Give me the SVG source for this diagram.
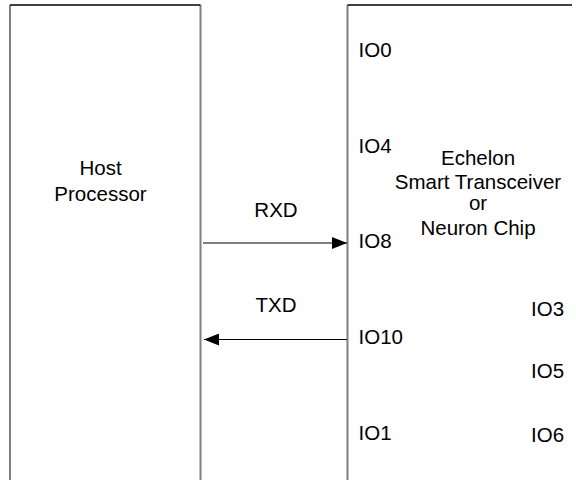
<svg xmlns="http://www.w3.org/2000/svg" width="576" height="480" viewBox="0 0 576 480">
<style>
.side{stroke:#808080;stroke-width:2;fill:none}
.top{stroke:#000;stroke-width:1.5;fill:none}
.t{font-family:"Liberation Sans",Arial,sans-serif;font-size:20.5px;fill:#000}
.c{text-anchor:middle}
.conn{stroke:#000;stroke-width:1;fill:none}
</style>
<defs>
<marker id="ah" markerWidth="15" markerHeight="12" refX="15" refY="6" orient="auto" markerUnits="userSpaceOnUse">
<path d="M0,0 L15,6 L0,12 Z" fill="#000"/>
</marker>
</defs>
<rect width="576" height="480" fill="#fff"/>
<g id="host">
<path class="side" d="M10,5 V480 M200.5,5 V480"/>
<path class="top" d="M10,5 H200.5"/>
<text class="t c" x="100.5" y="175">Host</text>
<text class="t c" x="100.5" y="200.5">Processor</text>
</g>
<g id="chip">
<path class="side" d="M347.5,5 V480"/>
<path class="top" d="M347.5,5 H572"/>
<text class="t" x="358.5" y="56.5">IO0</text>
<text class="t" x="358.5" y="152.5">IO4</text>
<text class="t" x="358.5" y="248">IO8</text>
<text class="t" x="358.5" y="343.5">IO10</text>
<text class="t" x="358.5" y="440">IO1</text>
<text class="t" x="531" y="315.5">IO3</text>
<text class="t" x="531" y="377.5">IO5</text>
<text class="t" x="531" y="441.5">IO6</text>
<text class="t c" x="478" y="165">Echelon</text>
<text class="t c" x="478" y="189">Smart Transceiver</text>
<text class="t c" x="478" y="209.5">or</text>
<text class="t c" x="478" y="234.5">Neuron Chip</text>
</g>
<g id="connectors">
<line class="conn" x1="203" y1="243" x2="347" y2="243" marker-end="url(#ah)"/>
<text class="t c" x="276" y="217">RXD</text>
<line class="conn" x1="347" y1="339.5" x2="204" y2="339.5" marker-end="url(#ah)"/>
<text class="t c" x="276" y="311.5">TXD</text>
</g>
</svg>
